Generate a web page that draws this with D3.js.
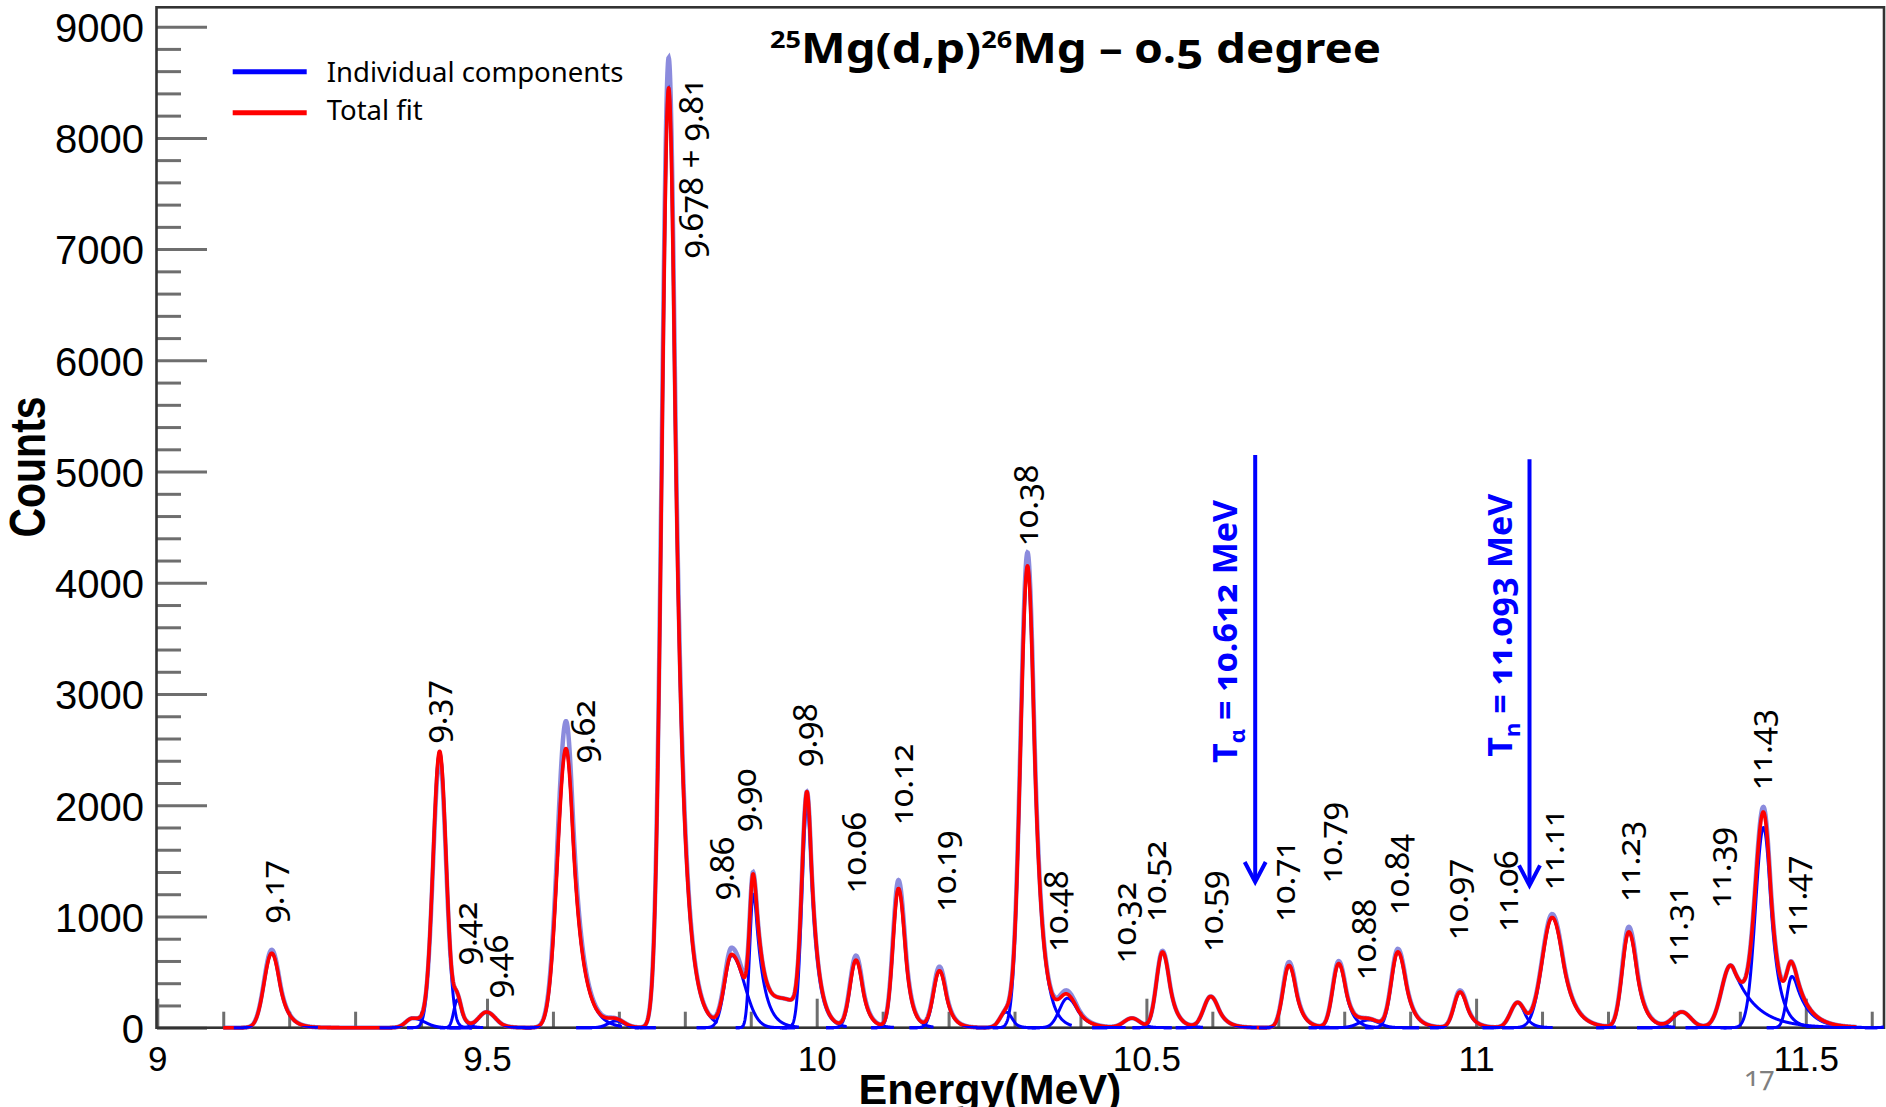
<!DOCTYPE html>
<html>
<head>
<meta charset="utf-8">
<script src="https://cdn.jsdelivr.net/npm/d3@7"></script>
<style>
  body { margin: 0; background: #fff; }
  .onum { font-feature-settings: "onum" 1; font-variant-numeric: oldstyle-nums; }
  .lnum { font-feature-settings: "lnum" 1; font-variant-numeric: lining-nums; }
</style>
</head>
<body>
<div id="chart"></div>
<script>
// fitted peak components: centroid (MeV), height (counts), left/right width (MeV), tail
var peakE  = [9.1735, 9.387, 9.4282, 9.455, 9.4994, 9.6198, 9.6957, 9.7755, 9.871, 9.9038, 9.955, 9.9853,
              10.0596, 10.1240, 10.1862, 10.2871, 10.3197, 10.3802, 10.4781, 10.5244, 10.5975, 10.7163,
              10.7916, 10.8376, 10.8814, 10.9756, 11.0628, 11.1154, 11.2316, 11.3121, 11.3858, 11.4359,
              11.4788, 11.65];
var peakH  = [670, 85, 2480, 250, 140, 2510, 60, 8450, 650, 1200, 230, 2010,
              605, 1250, 510, 140, 4150, 265, 85, 680, 280, 560,
              575, 70, 680, 320, 225, 990, 860, 140, 560, 1800,
              460, 250];
var peakSL = [0.0115, 0.0100, 0.0099, 0.0053, 0.0121, 0.0129, 0.0121, 0.0103, 0.0106, 0.0053, 0.0250, 0.0076,
              0.0091, 0.0083, 0.0091, 0.0091, 0.0106, 0.0121, 0.0121, 0.0091, 0.0106, 0.0091,
              0.0091, 0.0152, 0.0099, 0.0091, 0.0106, 0.0152, 0.0099, 0.0136, 0.0136, 0.0121,
              0.0076, 0.0121];
var peakSR = [0.0121, 0.0180, 0.0099, 0.0068, 0.0136, 0.0121, 0.0121, 0.0106, 0.0193, 0.0076, 0.0250, 0.0076,
              0.0099, 0.0099, 0.0099, 0.0091, 0.0106, 0.0152, 0.0121, 0.0106, 0.0121, 0.0106,
              0.0106, 0.0152, 0.0121, 0.0106, 0.0106, 0.0167, 0.0121, 0.0136, 0.0136, 0.0114,
              0.0121, 0.0121];
var peakK  = [1.0, 3, 2.5, 1.0, 1.5, 0.8, 3, 0.8, 3, 0.6, 3, 0.7,
              1, 1.1, 1, 1.5, 0.9, 1, 1.5, 1, 1, 1,
              1, 2, 1, 1, 1.2, 1, 1, 1.5, 0.4, 0.9,
              0.6, 2];
var peakShown = [1,1,1,1,1,1,1,1,1,1,0,1, 1,1,1,1,1,1,1,1,1,1, 1,1,1,1,1,1,1,1,1,1, 1,1];
// measured spectrum tops (counts) where they differ from the fit
var dataH  = [700, 85, 2420, 250, 140, 2756, 60, 8720, 710, 1200, 230, 2010,
              645, 1325, 546, 140, 4270, 295, 85, 690, 280, 590,
              597, 70, 707, 335, 225, 1020, 905, 140, 560, 1845,
              460, 250];
var fitRange = [9.1, 11.577];

var peakLabels = ["9.17", "9.37", "9.42", "9.46", "9.62", "9.678 + 9.81", "9.86", "9.90", "9.98", "10.06",
                  "10.12", "10.19", "10.38", "10.48", "10.32", "10.52", "10.59", "10.71", "10.79", "10.88",
                  "10.84", "10.97", "11.06", "11.11", "11.23", "11.31", "11.39", "11.43", "11.47"];
var labelE = [9.1796, 9.4272, 9.4727, 9.5197, 9.6516, 9.8155, 9.8625, 9.8959, 9.9876, 10.0620,
              10.1332, 10.1991, 10.3235, 10.3684, 10.4716, 10.5173, 10.6036, 10.7132, 10.7845, 10.8361,
              10.8861, 10.9751, 11.0514, 11.1212, 11.2358, 11.3092, 11.3744, 11.4357, 11.4897];
var labelC = [939, 2557, 564, 267, 2380, 6918, 1148, 1762, 2347, 1208,
              1823, 1043, 4331, 683, 579, 953, 683, 953, 1298, 429,
              1013, 789, 863, 1238, 1133, 548, 1074, 2137, 818];

var thresholdSym  = ["α", "n"];
var thresholdText = ["10.612", "11.093"];
var arrowE   = [10.665, 11.081];
var arrowTop = [5150, 5110];
var arrowTip = [1310, 1280];
var arrowTextC = [2380, 2437];

var yMajor = [0, 1000, 2000, 3000, 4000, 5000, 6000, 7000, 8000, 9000];
var xMajor = [9, 9.5, 10, 10.5, 11, 11.5];
var xTickLabels = ["9", "9.5", "10", "10.5", "11", "11.5"];

var W = 1886, H = 1107;
var svg = d3.select("#chart").append("svg").attr("width", W).attr("height", H);

var x = d3.scaleLinear().domain([9, 11.6186]).range([157.3, 1884]);
var y = d3.scaleLinear().domain([0, 9174]).range([1027.7, 7.3]);

function shape(d, sl, sr, k) {
  if (d < 0) return Math.exp(-d * d / (2 * sl * sl));
  var u = d / sr;
  if (u <= k) return Math.exp(-u * u / 2);
  return Math.exp(k * k / 2 - k * u);
}
function sumAt(e, heights) {
  var s = 0;
  for (var i = 0; i < peakE.length; i++) s += heights[i] * shape(e - peakE[i], peakSL[i], peakSR[i], peakK[i]);
  return s;
}

var step = 0.0004;
var fitPts = d3.range(fitRange[0], fitRange[1] + step / 2, step).map(function (e) { return [e, sumAt(e, peakH)]; });
var dataPts = d3.range(fitRange[0], fitRange[1] + step / 2, step).map(function (e) { return [e, sumAt(e, dataH)]; });

var comps = [];
peakE.forEach(function (c, i) {
  if (!peakShown[i]) return;
  var lo = Math.max(9, c - 5 * peakSL[i]);
  var hi = Math.min(11.6186, c + peakSR[i] * Math.max(5, (5.3 + peakK[i] * peakK[i] / 2) / peakK[i]));
  comps.push(d3.range(lo, hi, step).map(function (e) {
    return [e, peakH[i] * shape(e - c, peakSL[i], peakSR[i], peakK[i])];
  }));
});

var line = d3.line().x(function (d) { return x(d[0]); }).y(function (d) { return y(d[1]); });

// axes
var yMinor = d3.range(200, 9001, 200).filter(function (v) { return v % 1000 !== 0; });
var xMinor = d3.range(9.1, 11.65, 0.1).filter(function (v) { return Math.abs(v * 2 - Math.round(v * 2)) > 1e-6; });

var gy = svg.append("g").attr("transform", "translate(157,0)")
  .call(d3.axisLeft(y).tickValues(yMajor).tickSize(-50).tickPadding(13).tickFormat(d3.format("d")));
svg.append("g").attr("transform", "translate(157,0)")
  .call(d3.axisLeft(y).tickValues(yMinor).tickSize(-24).tickFormat(""));
var gx = svg.append("g").attr("transform", "translate(0," + y(0) + ")")
  .call(d3.axisBottom(x).tickValues(xMajor).tickSize(-29).tickPadding(18).tickFormat(function (d, i) { return xTickLabels[i]; }));
svg.append("g").attr("transform", "translate(0," + y(0) + ")")
  .call(d3.axisBottom(x).tickValues(xMinor).tickSize(-16).tickFormat(""));

svg.selectAll(".domain").remove();
svg.selectAll(".tick line").attr("stroke", "#6e6e6e").attr("stroke-width", 3);
svg.selectAll(".tick text").attr("fill", "#000").style("font-family", "'Liberation Sans', Arial, sans-serif");
gy.selectAll(".tick text").style("font-size", "40px").attr("dy", "0.37em");
gx.selectAll(".tick text").style("font-size", "35px");

// frame
svg.append("rect").attr("x", 156.5).attr("y", y(9174)).attr("width", 1884 - 156.5).attr("height", y(0) - y(9174))
  .attr("fill", "none").attr("stroke", "#333").attr("stroke-width", 2.6);

// components, spectrum, total fit
var gc = svg.append("g");
gc.selectAll("path").data(comps).enter().append("path")
  .attr("d", line).attr("fill", "none").attr("stroke", "#0000ff").attr("stroke-width", 3);

svg.append("path").attr("d", line(dataPts)).attr("fill", "none")
  .attr("stroke", "#5a5acf").attr("stroke-opacity", 0.7).attr("stroke-width", 4.5);
svg.append("path").attr("d", line(fitPts)).attr("fill", "none")
  .attr("stroke", "#ff0000").attr("stroke-width", 3.6).attr("stroke-linejoin", "round");

// components lie on top along the baseline
svg.append("clipPath").attr("id", "base").append("rect")
  .attr("x", 157).attr("y", y(0) - 1.8).attr("width", 1727).attr("height", 4.5);
svg.append("g").attr("clip-path", "url(#base)").selectAll("path").data(comps).enter().append("path")
  .attr("d", line).attr("fill", "none").attr("stroke", "#0000ff").attr("stroke-width", 3);

// peak labels
svg.append("g").selectAll("text").data(peakLabels).enter().append("text")
  .attr("class", "onum")
  .attr("transform", function (d, i) { return "translate(" + x(labelE[i]) + "," + y(labelC[i]) + ") rotate(-90)"; })
  .attr("dy", "0.25em")
  .style("font-family", "'Noto Sans', sans-serif").style("font-size", "33px").style("white-space", "pre")
  .attr("fill", "#000")
  .text(function (d) { return d; });

// thresholds
arrowE.forEach(function (e, i) {
  var ax = x(e), yt = y(arrowTip[i]);
  svg.append("line").attr("x1", ax).attr("x2", ax).attr("y1", y(arrowTop[i])).attr("y2", yt - 1)
    .attr("stroke", "#0000ff").attr("stroke-width", 4);
  svg.append("path").attr("d", "M" + (ax - 10.5) + "," + (yt - 20) + "L" + ax + "," + yt + "L" + (ax + 10.5) + "," + (yt - 20))
    .attr("fill", "none").attr("stroke", "#0000ff").attr("stroke-width", 4);
  var t = svg.append("text").attr("class", "onum")
    .attr("transform", "translate(" + (ax - 18) + "," + y(arrowTextC[i]) + ") rotate(-90)")
    .style("font-family", "'Noto Sans', sans-serif").style("font-weight", "bold").style("font-size", "34px")
    .attr("fill", "#0000ff");
  t.append("tspan").text("T");
  t.append("tspan").attr("dy", 8).style("font-size", "22px").text(thresholdSym[i]);
  t.append("tspan").attr("dy", -8).text(" = " + thresholdText[i] + " MeV");
});

// legend
var legend = [["Individual components", "#0000ff"], ["Total fit", "#ff0000"]];
legend.forEach(function (l, i) {
  var ly = 71.7 + i * 41;
  svg.append("line").attr("x1", 232.7).attr("x2", 306.7).attr("y1", ly).attr("y2", ly)
    .attr("stroke", l[1]).attr("stroke-width", 5);
  svg.append("text").attr("x", 326.7).attr("y", ly + 10 - i * 2.7)
    .style("font-family", "'Noto Sans', sans-serif").style("font-size", "27.5px").attr("fill", "#000")
    .text(l[0]);
});

// title
var title = svg.append("text").attr("x", 770).attr("y", 63.3)
  .attr("textLength", 611).attr("lengthAdjust", "spacingAndGlyphs")
  .style("font-family", "'Noto Sans', sans-serif").style("font-weight", "bold").style("font-size", "42px")
  .attr("fill", "#000").attr("class", "onum");
title.append("tspan").attr("class", "lnum").style("font-size", "24px").attr("dy", -15).text("25");
title.append("tspan").attr("dy", 15).text("Mg(d,p)");
title.append("tspan").attr("class", "lnum").style("font-size", "24px").attr("dy", -15).text("26");
title.append("tspan").attr("dy", 15).text("Mg – 0.5 degree");

// axis titles
svg.append("text").attr("transform", "translate(45,467) rotate(-90) scale(1,1.2)").attr("text-anchor", "middle")
  .style("font-family", "'Liberation Sans', Arial, sans-serif").style("font-weight", "bold").style("font-size", "41px")
  .text("Counts");
svg.append("text").attr("x", 990).attr("y", 1104).attr("text-anchor", "middle")
  .style("font-family", "'Liberation Sans', Arial, sans-serif").style("font-weight", "bold").style("font-size", "43px")
  .text("Energy(MeV)");

// slide number
svg.append("text").attr("x", 1744).attr("y", 1086).attr("class", "onum")
  .style("font-family", "'Noto Sans', sans-serif").style("font-size", "28px").attr("fill", "#7f7f7f")
  .text("17");
</script>
</body>
</html>
